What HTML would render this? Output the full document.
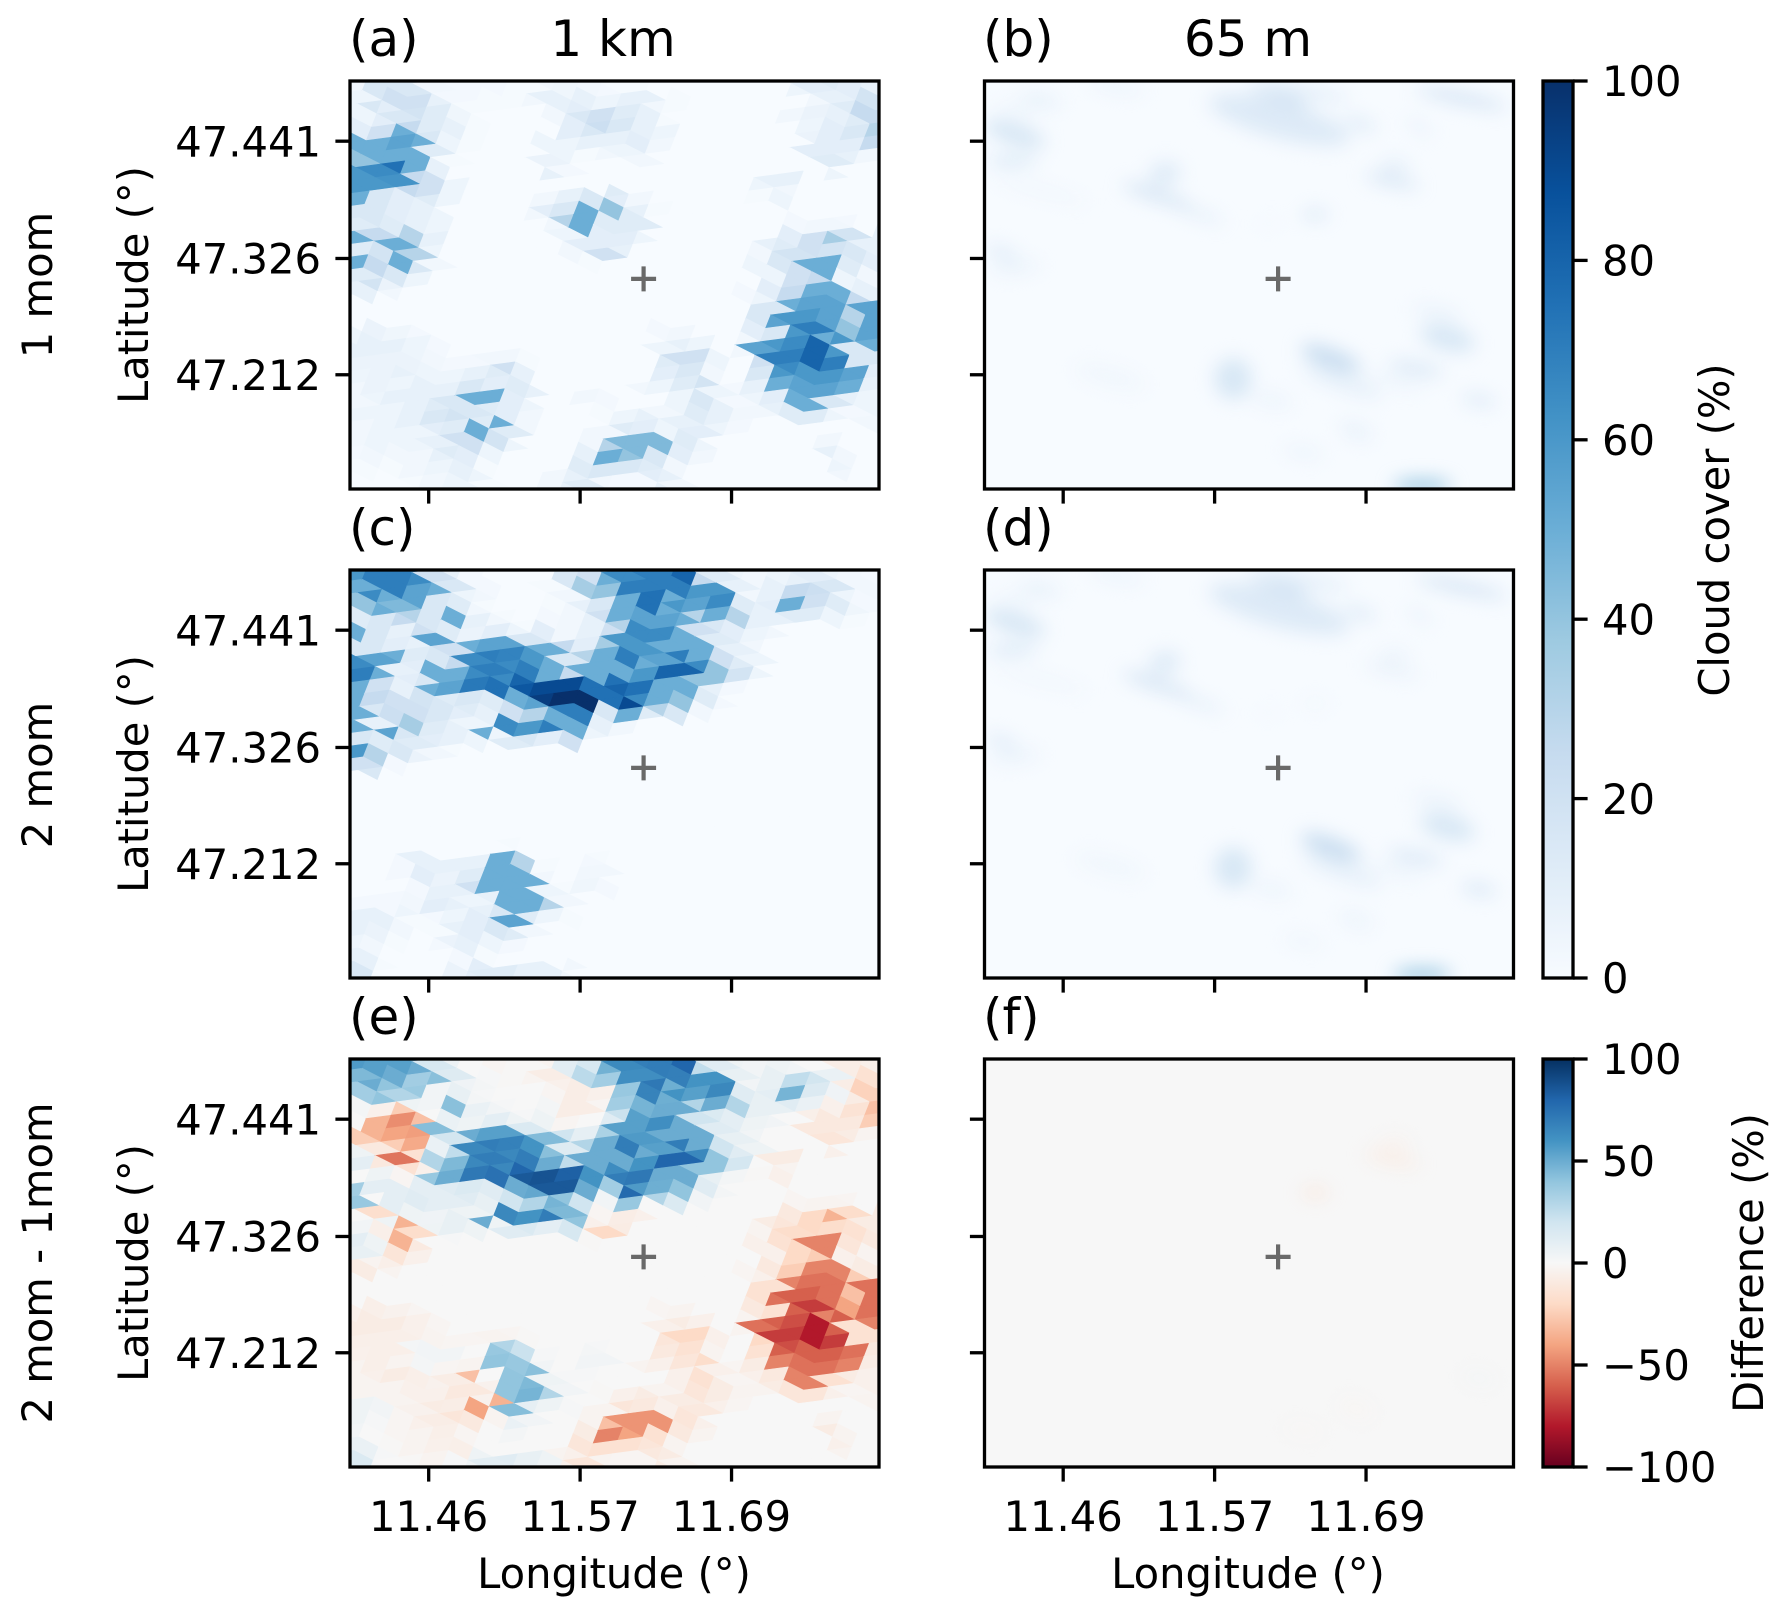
<!DOCTYPE html>
<html>
<head>
<meta charset="utf-8">
<title>Cloud cover comparison</title>
<style>
html,body{margin:0;padding:0;background:#fff;}
svg{display:block;}
text{font-family:"DejaVu Sans","Liberation Sans",sans-serif;fill:#000;}
.tick{font-size:41.67px;}
.lab{font-size:41.67px;}
.ttl{font-size:50px;}
</style>
</head>
<body>
<svg id="fig" xmlns="http://www.w3.org/2000/svg" width="1787" height="1615" viewBox="0 0 1787 1615">
<defs>
<filter id="soft" filterUnits="userSpaceOnUse" x="900" y="0" width="700" height="1500" color-interpolation-filters="sRGB"><feGaussianBlur stdDeviation="9"/></filter>
<linearGradient id="grad-cover" x1="0" y1="1" x2="0" y2="0"></linearGradient>
<linearGradient id="grad-diff" x1="0" y1="1" x2="0" y2="0"></linearGradient>
</defs>
<g id="panels"></g>
<g id="ticks"></g>

<text class="ttl" x="349" y="56">(a)</text>
<text class="ttl" x="613" y="56" text-anchor="middle">1 km</text>
<text class="ttl" x="983" y="56">(b)</text>
<text class="ttl" x="1248" y="56" text-anchor="middle">65 m</text>
<text class="ttl" x="349" y="545">(c)</text>
<text class="ttl" x="983" y="545">(d)</text>
<text class="ttl" x="349" y="1034">(e)</text>
<text class="ttl" x="983" y="1034">(f)</text>

<text class="lab" transform="translate(52,285) rotate(-90)" text-anchor="middle">1 mom</text>
<text class="lab" transform="translate(52,775) rotate(-90)" text-anchor="middle">2 mom</text>
<text class="lab" transform="translate(52,1263) rotate(-90)" text-anchor="middle">2 mom - 1mom</text>

<text class="lab" transform="translate(148,285) rotate(-90)" text-anchor="middle">Latitude (°)</text>
<text class="lab" transform="translate(148,774) rotate(-90)" text-anchor="middle">Latitude (°)</text>
<text class="lab" transform="translate(148,1263) rotate(-90)" text-anchor="middle">Latitude (°)</text>

<text class="lab" x="614" y="1588" text-anchor="middle">Longitude (°)</text>
<text class="lab" x="1248" y="1588" text-anchor="middle">Longitude (°)</text>

<text class="lab" transform="translate(1729,530) rotate(-90)" text-anchor="middle">Cloud cover (%)</text>
<text class="lab" transform="translate(1763,1263) rotate(-90)" text-anchor="middle">Difference (%)</text>
</svg>

<script>
// Tick values and labels
var lonTicks = [11.4595, 11.574, 11.6885];
var lonTickLabels = ["11.46", "11.57", "11.69"];
var latTicks = [47.441, 47.326, 47.212];
var latTickLabels = ["47.441", "47.326", "47.212"];
var coverTicks = [0, 20, 40, 60, 80, 100];
var coverTickLabels = ["0", "20", "40", "60", "80", "100"];
var diffTicks = [-100, -50, 0, 50, 100];
var diffTickLabels = ["\u2212100", "\u221250", "0", "50", "100"];
var siteLon = 11.622;
var siteLat = 47.306;

// Cloud cover (%), regular lon/lat table, north to south
var cover1km1mom = [
[3,15,15,15,3,2,2,2,1,1,3,4,3,2,1,1,0,0,0,0,0,0,0,5,10,12,10,8],
[5,15,20,20,8,2,1,1,1,3,8,8,8,5,8,8,3,1,0,0,0,0,0,0,3,8,12,18],
[5,10,15,18,12,4,1,0,0,0,3,10,15,20,12,8,1,0,0,0,0,0,0,3,6,8,12,25],
[10,20,50,25,12,8,1,0,0,0,0,10,15,22,15,8,5,0,0,0,0,0,0,0,5,10,15,30],
[50,50,55,50,15,5,1,0,0,0,5,5,8,8,8,10,3,0,0,0,0,0,0,0,6,10,10,25],
[40,50,50,50,12,1,0,0,0,0,6,5,1,3,5,3,0,0,0,0,0,0,0,0,10,12,8,3],
[60,65,75,50,8,0,0,0,0,0,8,2,0,0,0,0,0,0,0,0,0,0,0,0,0,5,0,0],
[60,60,62,25,20,5,0,0,0,0,0,0,0,0,0,0,0,0,0,0,0,5,8,8,0,0,0,0],
[50,15,10,20,12,5,0,0,0,0,3,8,15,12,10,3,0,0,0,0,0,1,5,3,0,0,0,0],
[15,15,10,8,5,0,0,0,0,3,10,15,50,40,12,8,1,0,0,0,0,0,0,0,0,0,0,0],
[12,15,12,8,5,0,0,0,0,0,3,30,50,12,12,12,0,0,0,0,0,0,0,2,3,3,2,0],
[50,25,50,30,8,0,0,0,0,0,0,5,10,10,10,5,0,0,0,0,0,0,8,10,20,35,18,8],
[12,18,50,30,5,0,0,0,0,0,0,3,10,20,8,0,0,0,0,0,0,3,12,18,20,18,15,8],
[50,25,50,15,3,0,0,0,0,0,0,0,1,0,0,0,0,0,0,0,0,5,15,20,50,50,12,10],
[12,18,15,5,0,0,0,0,0,0,0,0,0,0,0,0,0,0,0,0,0,0,5,20,25,50,5,3],
[8,6,3,0,0,0,0,0,0,0,0,0,0,0,0,0,0,0,0,0,2,5,10,25,50,50,15,8],
[0,0,0,0,0,0,0,0,0,0,0,0,0,0,0,0,0,0,0,0,0,5,15,50,55,55,25,55],
[0,0,0,0,0,0,0,0,0,0,0,0,0,0,0,0,0,0,0,0,0,15,55,60,60,55,30,55],
[5,6,4,2,0,0,0,0,0,0,0,0,0,0,0,0,2,3,0,0,0,10,15,60,70,50,40,55],
[8,8,8,5,2,0,0,0,0,0,0,0,0,0,0,0,5,8,5,0,3,55,60,65,80,60,15,50],
[6,6,6,5,3,2,2,3,3,1,0,0,0,0,0,0,12,20,20,5,0,20,70,70,80,70,15,15],
[5,6,8,6,5,5,8,12,20,8,0,0,0,0,0,0,10,15,15,3,0,15,60,65,60,60,55,10],
[3,6,5,8,8,8,15,10,12,8,0,0,0,0,0,3,5,12,18,5,2,8,50,55,55,55,50,8],
[3,5,8,8,12,15,50,50,10,5,0,0,3,2,0,0,0,5,15,8,2,5,10,50,50,15,8,5],
[5,5,5,8,15,18,15,12,10,3,0,0,0,1,5,8,3,5,12,8,3,3,8,12,12,5,2,5],
[3,5,8,5,10,12,50,50,12,3,0,0,0,3,12,10,5,8,10,5,2,0,0,0,0,0,0,3],
[3,5,5,5,8,20,20,18,5,0,0,0,3,30,45,45,45,12,5,0,0,0,0,0,0,3,0,0],
[2,3,3,3,8,12,10,5,0,0,0,0,8,50,40,45,15,10,3,0,0,0,0,0,0,8,3,0],
[1,1,1,3,5,8,3,1,0,0,0,3,12,15,15,12,10,3,0,0,0,0,0,0,0,5,3,0],
[0,0,0,1,3,5,5,1,0,0,3,8,12,3,2,2,8,3,0,0,0,0,0,0,0,0,0,0]
];

// Cloud cover (%), same table layout
var cover1km2mom = [
[60,70,70,65,20,8,2,0,0,0,0,15,20,50,65,70,70,80,25,12,5,3,5,8,10,5,3,2],
[50,65,70,55,50,15,5,2,0,0,1,3,35,40,70,70,75,70,60,60,8,3,8,25,22,15,5,3],
[40,50,45,55,15,12,3,1,0,0,1,3,8,15,50,75,50,60,55,65,12,8,10,50,20,12,4,2],
[12,15,25,30,15,50,8,3,1,0,2,3,8,20,50,55,55,50,30,50,30,8,8,12,12,5,1,0],
[50,15,8,20,15,12,6,10,5,1,10,3,8,20,30,65,65,50,20,15,10,5,3,0,0,0,0,0],
[15,15,10,8,55,20,50,55,55,15,50,25,10,35,60,60,50,50,50,12,8,3,0,0,0,0,0,0],
[65,55,50,12,15,25,65,70,68,60,50,15,30,50,70,50,55,70,50,20,12,5,0,0,0,0,0,0],
[70,50,8,10,50,50,65,70,65,70,50,25,50,50,50,60,80,80,65,40,18,5,0,0,0,0,0,0],
[50,20,8,15,50,55,72,75,80,85,90,90,75,75,80,75,50,50,40,8,2,0,0,0,0,0,0,0],
[50,25,20,18,15,12,15,12,50,55,95,100,100,75,90,65,50,40,12,2,0,0,0,0,0,0,0,0],
[50,15,22,20,15,10,12,8,20,30,50,70,70,15,50,12,30,15,3,0,0,0,0,0,0,0,0,0],
[50,8,55,35,12,8,5,50,65,60,70,50,50,8,3,0,0,0,0,0,0,0,0,0,0,0,0,0],
[15,12,15,12,10,8,5,5,12,15,10,20,5,0,0,0,0,0,0,0,0,0,0,0,0,0,0,0],
[60,30,15,6,3,1,0,0,0,0,0,0,0,0,0,0,0,0,0,0,0,0,0,0,0,0,0,0],
[20,15,2,0,0,0,0,0,0,0,0,0,0,0,0,0,0,0,0,0,0,0,0,0,0,0,0,0],
[0,0,0,0,0,0,0,0,0,0,0,0,0,0,0,0,0,0,0,0,0,0,0,0,0,0,0,0],
[0,0,0,0,0,0,0,0,0,0,0,0,0,0,0,0,0,0,0,0,0,0,0,0,0,0,0,0],
[0,0,0,0,0,0,0,0,0,0,0,0,0,0,0,0,0,0,0,0,0,0,0,0,0,0,0,0],
[0,0,0,0,0,0,0,0,0,0,0,0,0,0,0,0,0,0,0,0,0,0,0,0,0,0,0,0],
[0,0,0,0,0,0,0,0,0,0,0,0,0,0,0,0,0,0,0,0,0,0,0,0,0,0,0,0],
[0,0,0,0,0,0,0,0,1,0,0,0,0,0,0,0,0,0,0,0,0,0,0,0,0,0,0,0],
[0,0,2,8,8,8,8,50,50,30,1,0,2,1,0,0,0,0,0,0,0,0,0,0,0,0,0,0],
[0,0,2,10,6,6,12,50,50,50,3,0,3,3,0,0,0,0,0,0,0,0,0,0,0,0,0,0],
[0,0,0,2,8,8,20,50,50,50,5,1,4,2,0,0,0,0,0,0,0,0,0,0,0,0,0,0],
[2,2,2,3,10,8,5,8,50,50,30,3,0,0,0,0,0,0,0,0,0,0,0,0,0,0,0,0],
[8,8,5,1,2,5,10,15,55,12,5,1,0,0,0,0,0,0,0,0,0,0,0,0,0,0,0,0],
[8,6,3,0,1,8,10,15,12,3,0,0,0,0,0,0,0,0,0,0,0,0,0,0,0,0,0,0],
[5,3,1,0,2,6,8,5,2,0,0,0,0,0,0,0,0,0,0,0,0,0,0,0,0,0,0,0],
[8,2,0,0,0,2,2,1,0,0,0,0,0,0,0,0,0,0,0,0,0,0,0,0,0,0,0,0],
[15,1,0,0,0,6,10,12,12,8,8,3,0,0,0,0,0,0,0,0,0,0,0,0,0,0,0,0]
];

// 65 m cloud features (b) and (d)
var blobLon = [11.617,11.623,11.636,11.684,11.500,11.761,11.729,11.423,11.421,11.442,11.423,11.442,11.536,11.530,11.561,11.708,11.710,11.650,11.615,11.413,11.423,11.588,11.617,11.495,11.662,11.670,11.726,11.708,11.742,11.750,11.774,11.681,11.641,11.731];
var blobLat = [47.476,47.462,47.491,47.458,47.494,47.483,47.455,47.448,47.422,47.481,47.470,47.393,47.409,47.388,47.370,47.402,47.416,47.369,47.360,47.332,47.317,47.208,47.187,47.210,47.228,47.205,47.218,47.205,47.273,47.248,47.187,47.157,47.136,47.103];
var blobLonSpan = [.027,.055,.040,.013,.021,.035,.011,.024,.019,.016,.016,.037,.012,.027,.021,.021,.011,.010,.011,.013,.019,.014,.016,.027,.024,.032,.021,.024,.019,.021,.013,.013,.015,.022];
var blobLatSpan = [.012,.018,.007,.005,.004,.005,.003,.009,.005,.007,.004,.003,.011,.005,.003,.004,.007,.004,.0015,.005,.005,.020,.006,.008,.009,.007,.007,.003,.004,.012,.005,.007,.004,.006];
var blobTilt = [5,15,10,20,10,12,35,18,0,10,15,15,-10,18,20,12,0,0,-5,15,-5,0,10,15,20,20,10,12,10,15,10,20,10,0];
var blobCover1mom = [24,13,10,14,8,20,10,18,16,8,7,6,13,20,14,20,10,18,4,13,8,16,6,4,25,10,13,8,10,16,14,8,8,40];
var blobCover2mom = [24,13,10,14,8,20,10,18,16,8,7,6,13,20,14,9,6,4,4,13,8,16,6,4,25,10,13,8,10,16,17,6,6,40];

// Colormap anchors
var bluesMap = ["#f7fbff","#deebf7","#c6dbef","#9ecae1","#6baed6","#4292c6","#2171b5","#08519c","#08306b"];
var rdbuMap = ["#67001f","#b2182b","#d6604d","#f4a582","#fddbc7","#f7f7f7","#d1e5f0","#92c5de","#4393c3","#2166ac","#053061"];

var NS = "http://www.w3.org/2000/svg";
var LON0 = 11.4, LON1 = 11.8, LAT0 = 47.1, LAT1 = 47.5;
var AX_W = 529, AX_H = 408;
var AX_LEFT = [350, 984.5];
var AX_TOP = [81, 570, 1059];
var CB_X = 1543, CB_W = 30;

function xScale(col, lon) { return AX_LEFT[col] + (lon - LON0) / (LON1 - LON0) * AX_W; }
function yScale(row, lat) { return AX_TOP[row] + (LAT1 - lat) / (LAT1 - LAT0) * AX_H; }

function hex2rgb(h) { return [parseInt(h.substr(1,2),16), parseInt(h.substr(3,2),16), parseInt(h.substr(5,2),16)]; }
function ramp(map, t) {
  t = Math.max(0, Math.min(1, t));
  var p = t * (map.length - 1), k = Math.min(map.length - 2, Math.floor(p)), f = p - k;
  var a = hex2rgb(map[k]), b = hex2rgb(map[k + 1]);
  return "rgb(" + Math.round(a[0] + (b[0] - a[0]) * f) + "," + Math.round(a[1] + (b[1] - a[1]) * f) + "," + Math.round(a[2] + (b[2] - a[2]) * f) + ")";
}
function coverColor(v) { return ramp(bluesMap, v / 100); }
function diffColor(v) { return ramp(rdbuMap, (v + 100) / 200); }

function mk(tag, parent, attrs) {
  var el = document.createElementNS(NS, tag);
  for (var k in attrs) { el.setAttribute(k, attrs[k]); }
  parent.appendChild(el);
  return el;
}

var panelsG = document.getElementById("panels");
var ticksG = document.getElementById("ticks");
var defs = document.querySelector("defs");

function tableValue(table, lon, lat) {
  var nr = table.length, nc = table[0].length;
  var c = Math.floor((lon - LON0) / (LON1 - LON0) * nc);
  var r = Math.floor((LAT1 - lat) / (LAT1 - LAT0) * nr);
  c = Math.max(0, Math.min(nc - 1, c));
  r = Math.max(0, Math.min(nr - 1, r));
  return table[r][c];
}

// Triangular model mesh geometry, in degrees
var meshLon = 11.5732, meshLat = 47.3824;
var e1Lon = 0.0189, e1Lat = 0.00328, e3Lon = -0.0040, e3Lat = -0.01314;

function meshPoint(i, j) {
  return [meshLon + i * e1Lon + j * e3Lon, meshLat + i * e1Lat + j * e3Lat];
}

function drawTriangle(parent, col, row, pts, valueFn, colorFn) {
  var cLon = (pts[0][0] + pts[1][0] + pts[2][0]) / 3;
  var cLat = (pts[0][1] + pts[1][1] + pts[2][1]) / 3;
  if (cLon < LON0 - 0.03 || cLon > LON1 + 0.03 || cLat < LAT0 - 0.03 || cLat > LAT1 + 0.03) { return; }
  var fill = colorFn(valueFn(cLon, cLat));
  var s = pts.map(function (p) { return xScale(col, p[0]).toFixed(1) + "," + yScale(row, p[1]).toFixed(1); }).join(" ");
  var el = mk("polygon", parent, { points: s, fill: fill, stroke: fill, "stroke-width": "0.6" });
  
  
}

function drawMesh(parent, col, row, valueFn, colorFn) {
  for (var i = -30; i < 40; i++) {
    for (var j = -30; j < 50; j++) {
      var p = meshPoint(i, j), q = meshPoint(i + 1, j), r = meshPoint(i + 1, j + 1), s = meshPoint(i, j + 1);
      drawTriangle(parent, col, row, [p, q, r], valueFn, colorFn);
      drawTriangle(parent, col, row, [p, r, s], valueFn, colorFn);
    }
  }
}

function drawBlobs(parent, col, row, valueFn, colorFn) {
  var g = mk("g", parent, { filter: "url(#soft)" });
  
  
  blobLon.forEach(function (lon, n) {
    var v = valueFn(n);
    if (v === 0) { return; }
    var cx = xScale(col, lon), cy = yScale(row, blobLat[n]);
    var rx = xScale(col, lon + blobLonSpan[n]) - cx;
    var ry = yScale(row, blobLat[n] - blobLatSpan[n]) - cy;
    var el = mk("ellipse", g, {
      cx: cx.toFixed(1), cy: cy.toFixed(1), rx: rx.toFixed(1), ry: ry.toFixed(1),
      fill: colorFn(v), transform: "rotate(" + blobTilt[n] + " " + cx.toFixed(1) + " " + cy.toFixed(1) + ")"
    });
    
    
  });
}

function panel(name, col, row, bg, draw) {
  var x = AX_LEFT[col], y = AX_TOP[row];
  var cp = mk("clipPath", defs, { id: "clip-" + name });
  mk("rect", cp, { x: x, y: y, width: AX_W, height: AX_H });
  var g = mk("g", panelsG, { "clip-path": "url(#clip-" + name + ")" });
  
  
  var back = mk("rect", g, { x: x, y: y, width: AX_W, height: AX_H, fill: bg });
  
  
  draw(g);
  // site marker
  var sx = xScale(col, siteLon), sy = yScale(row, siteLat);
  var m1 = mk("line", panelsG, { x1: sx - 12.5, x2: sx + 12.5, y1: sy, y2: sy, stroke: "#696969", "stroke-width": 4.2 });
  
  
  var m2 = mk("line", panelsG, { x1: sx, x2: sx, y1: sy - 12.5, y2: sy + 12.5, stroke: "#696969", "stroke-width": 4.2 });
  
  
  // frame
  var f = mk("rect", panelsG, { x: x, y: y, width: AX_W, height: AX_H, fill: "none", stroke: "#000", "stroke-width": 3.3 });
  
  
  // x ticks
  lonTicks.forEach(function (lon, n) {
    var tx = xScale(col, lon);
    var t = mk("line", ticksG, { x1: tx, x2: tx, y1: y + AX_H, y2: y + AX_H + 14.6, stroke: "#000", "stroke-width": 3.3 });
    
    
    if (row === 2) {
      var lb = mk("text", ticksG, { x: tx, y: 1531, "text-anchor": "middle", "class": "tick" });
      lb.textContent = lonTickLabels[n];
      
      
    }
  });
  // y ticks
  latTicks.forEach(function (lat, n) {
    var ty = yScale(row, lat);
    var t = mk("line", ticksG, { x1: x - 14.6, x2: x, y1: ty, y2: ty, stroke: "#000", "stroke-width": 3.3 });
    
    
    if (col === 0) {
      var lb = mk("text", ticksG, { x: x - 29, y: ty + 15.2, "text-anchor": "end", "class": "tick" });
      lb.textContent = latTickLabels[n];
      
      
    }
  });
}

panel("a", 0, 0, coverColor(0), function (g) {
  drawMesh(g, 0, 0, function (lon, lat) { return tableValue(cover1km1mom, lon, lat); }, coverColor);
});
panel("c", 0, 1, coverColor(0), function (g) {
  drawMesh(g, 0, 1, function (lon, lat) { return tableValue(cover1km2mom, lon, lat); }, coverColor);
});
panel("e", 0, 2, diffColor(0), function (g) {
  drawMesh(g, 0, 2, function (lon, lat) { return tableValue(cover1km2mom, lon, lat) - tableValue(cover1km1mom, lon, lat); }, diffColor);
});
panel("b", 1, 0, coverColor(0), function (g) {
  drawBlobs(g, 1, 0, function (n) { return blobCover1mom[n]; }, coverColor);
});
panel("d", 1, 1, coverColor(0), function (g) {
  drawBlobs(g, 1, 1, function (n) { return blobCover2mom[n]; }, coverColor);
});
panel("f", 1, 2, diffColor(0), function (g) {
  drawBlobs(g, 1, 2, function (n) { return blobCover2mom[n] - blobCover1mom[n]; }, diffColor);
});

// Colorbars
function fillGrad(id, map) {
  var gr = document.getElementById(id);
  map.forEach(function (c, n) {
    mk("stop", gr, { offset: n / (map.length - 1), "stop-color": c });
  });
}
fillGrad("grad-cover", bluesMap);
fillGrad("grad-diff", rdbuMap);

function colorbar(name, grad, yTop, yBottom, vMin, vMax, ticks, labels) {
  var bar = mk("rect", panelsG, { x: CB_X, y: yTop, width: CB_W, height: yBottom - yTop, fill: "url(#" + grad + ")", stroke: "#000", "stroke-width": 3.3 });
  
  
  ticks.forEach(function (v, n) {
    var ty = yBottom - (v - vMin) / (vMax - vMin) * (yBottom - yTop);
    var t = mk("line", ticksG, { x1: CB_X + CB_W, x2: CB_X + CB_W + 14.6, y1: ty, y2: ty, stroke: "#000", "stroke-width": 3.3 });
    
    
    var lb = mk("text", ticksG, { x: CB_X + CB_W + 29, y: ty + 15.2, "class": "tick" });
    lb.textContent = labels[n];
    
    
  });
}
colorbar("cloud-cover", "grad-cover", 81, 978, 0, 100, coverTicks, coverTickLabels);
colorbar("difference", "grad-diff", 1059, 1467, -100, 100, diffTicks, diffTickLabels);
</script>
</body>
</html>
